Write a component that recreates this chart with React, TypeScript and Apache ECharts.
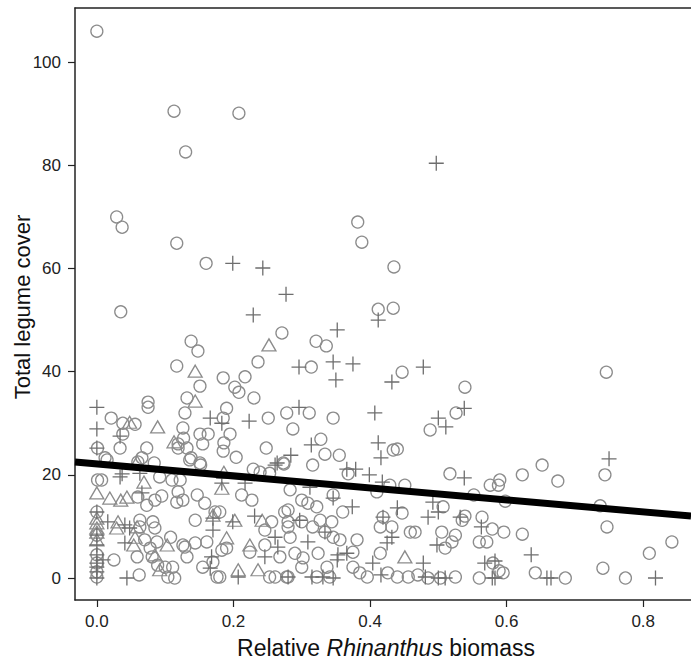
import React, { useEffect, useRef } from "react";
import * as echarts from "echarts";

const xTicks = [0, 0.2, 0.4, 0.6, 0.8];
const yTicks = [0, 20, 40, 60, 80, 100];

const circlePoints: [number, number][] = [
  [0.0, 106], [0.113, 90.5], [0.208, 90.1], [0.13, 82.6], [0.029, 70.0], [0.037, 68.0], [0.117, 64.9], [0.16, 61.0], [0.035, 51.6], [0.271, 47.5], [0.382, 69.0], [0.388, 65.1], [0.435, 60.3], [0.412, 52.1], [0.434, 52.3],
  [0.138, 45.9], [0.148, 44.0], [0.117, 41.1], [0.236, 41.9], [0.151, 37.2], [0.185, 38.8], [0.217, 39.0], [0.202, 37.0], [0.208, 36.0], [0.23, 34.9], [0.132, 34.9], [0.075, 34.1], [0.075, 33.1], [0.129, 32.0], [0.19, 32.9], [0.021, 31.0], [0.038, 30.0], [0.056, 29.8], [0.185, 31.0], [0.251, 31.0], [0.126, 29.1], [0.038, 27.9], [0.127, 27.1], [0.119, 26.0], [0.151, 27.9], [0.163, 27.9], [0.195, 27.9], [0.155, 26.0], [0.186, 26.2], [0.001, 25.2], [0.034, 25.2], [0.073, 25.2], [0.132, 25.2], [0.185, 24.6], [0.248, 25.2], [0.012, 23.3], [0.066, 23.3], [0.138, 23.3], [0.204, 23.4], [0.152, 21.9], [0.229, 21.1],
  [0.321, 45.9], [0.336, 45.0], [0.314, 40.9], [0.447, 39.9], [0.539, 37.0], [0.526, 32.0], [0.488, 28.7], [0.278, 32.0], [0.311, 32.0], [0.346, 31.0], [0.287, 28.9], [0.328, 26.9], [0.44, 25.0], [0.334, 24.0], [0.355, 23.8], [0.274, 22.1], [0.316, 21.9], [0.368, 20.2], [0.517, 20.2],
  [0.746, 39.9], [0.744, 20.0], [0.652, 21.9], [0.623, 20.0], [0.675, 18.8], [0.59, 19.0], [0.588, 18.0], [0.576, 18.0], [0.552, 16.1], [0.598, 14.9], [0.737, 14.0], [0.564, 11.8], [0.579, 9.5], [0.596, 8.9], [0.623, 8.5], [0.747, 9.9], [0.56, 7.0], [0.571, 7.0], [0.842, 7.0], [0.809, 4.8], [0.58, 2.9], [0.589, 1.4], [0.595, 1.0], [0.642, 1.0], [0.741, 1.9], [0.56, 0], [0.686, 0], [0.774, 0],
  [0.015, 22.9], [0.06, 22.5], [0.084, 22.3], [0.119, 25.2], [0.001, 19.0], [0.007, 19.0], [0.092, 19.6], [0.11, 19.0], [0.119, 16.7], [0.06, 15.7], [0.073, 14.1], [0.085, 15.1], [0.095, 15.9], [0.117, 14.7], [0.063, 11.2], [0.063, 9.9], [0.082, 10.9], [0.085, 9.7], [0.07, 7.4], [0.088, 7.0], [0.108, 7.9], [0.126, 6.4], [0.078, 5.8], [0.059, 4.1], [0.025, 3.5], [0.081, 4.1], [0.089, 2.5], [0.1, 2.1], [0.111, 2.1], [0.062, 0.6], [0.104, 0.2], [0.114, 0],
  [0, 12.8], [0, 8.3], [0, 4.5], [0, 2.9], [0, 1.2], [0, 0.2],
  [0.136, 22.9], [0.151, 22.3], [0.273, 22.3], [0.239, 20.5], [0.253, 20.3], [0.212, 16.1], [0.227, 15.1], [0.147, 16.1], [0.158, 14.5], [0.122, 19.0], [0.126, 15.1], [0.173, 12.8], [0.18, 12.8], [0.144, 11.2], [0.256, 10.9], [0.246, 9.3], [0.275, 12.8], [0.28, 9.9], [0.19, 5.8], [0.183, 5.4], [0.224, 5.0], [0.246, 6.4], [0.268, 4.1], [0.129, 6.0], [0.144, 6.8], [0.161, 7.0], [0.132, 4.1], [0.17, 3.1], [0.155, 2.1], [0.176, 0.2], [0.18, 0.2], [0.253, 0.2], [0.261, 0.2], [0.278, 0.2],
  [0.434, 24.8], [0.41, 16.7], [0.429, 18.0], [0.283, 17.1], [0.346, 16.1], [0.3, 15.1], [0.309, 14.5], [0.322, 13.8], [0.36, 12.8], [0.28, 13.2], [0.3, 10.9], [0.28, 10.9], [0.327, 11.2], [0.344, 10.9], [0.334, 8.9], [0.316, 9.9], [0.346, 7.9], [0.356, 7.4], [0.283, 7.9], [0.381, 7.4], [0.419, 11.8], [0.415, 9.9], [0.432, 9.9], [0.415, 4.8], [0.29, 4.8], [0.302, 3.9], [0.324, 4.8], [0.375, 5.0], [0.3, 2.1], [0.337, 2.1], [0.375, 2.1], [0.385, 1.0], [0.396, 0.2], [0.322, 0.2], [0.341, 0.2], [0.28, 0.2], [0.426, 1.0],
  [0.451, 18.0], [0.507, 13.8], [0.447, 12.6], [0.539, 12.0], [0.535, 11.2], [0.459, 8.9], [0.466, 8.9], [0.505, 8.9], [0.525, 8.3], [0.52, 7.0], [0.51, 5.8], [0.44, 0.2], [0.456, 0.2], [0.47, 0.6], [0.485, 0], [0.503, 0], [0.525, 0.2],
];

const plusPoints: [number, number][] = [
  [0.199, 61.0], [0.243, 60.1], [0.277, 55.0], [0.229, 51.0], [0.352, 48.1], [0.497, 80.4], [0.412, 50.0],
  [0, 33.1], [0, 28.9], [0.166, 31.0], [0.183, 30.0], [0.223, 30.4], [0.034, 27.5], [0, 25.2], [0.037, 20.2],
  [0.296, 40.9], [0.346, 41.9], [0.375, 41.5], [0.35, 38.4], [0.432, 38.0], [0.478, 40.9], [0.538, 32.9], [0.5, 31.0], [0.511, 29.3], [0.407, 32.0], [0.296, 33.1], [0.314, 25.8], [0.412, 26.2], [0.416, 23.3], [0.284, 23.8], [0.261, 21.9], [0.366, 21.1], [0.379, 21.1], [0.399, 20.0], [0.538, 19.4],
  [0.75, 23.1], [0.563, 9.9], [0.636, 4.5], [0.568, 2.9], [0.583, 3.3], [0.583, 0], [0.659, 0], [0.665, 0], [0.818, 0],
  [0.034, 19.6], [0.063, 20.3], [0.066, 16.5], [0.016, 10.9], [0.041, 10.3], [0.048, 9.7], [0.041, 6.8], [0.009, 3.5], [0.044, 0],
  [0, 12.8], [0, 8.3], [0, 6.4], [0, 4.5], [0, 2.9], [0, 2.1], [0, 1.2], [0, 0],
  [0.264, 22.3], [0.183, 18.4], [0.217, 18.4], [0.17, 11.6], [0.199, 10.9], [0.231, 12.0], [0.261, 7.9], [0.17, 9.3], [0.265, 6.0], [0.246, 4.1], [0.168, 4.1], [0.166, 1.9], [0.207, 0.2],
  [0.418, 18.6], [0.312, 17.6], [0.346, 15.5], [0.374, 13.8], [0.297, 11.2], [0.334, 8.9], [0.309, 7.0], [0.419, 11.8], [0.425, 6.8], [0.353, 4.5], [0.366, 4.8], [0.352, 3.5], [0.404, 2.9], [0.28, 0.2], [0.315, 0.2], [0.331, 0.2], [0.346, 0], [0.416, 0.6],
  [0.492, 14.7], [0.5, 12.8], [0.44, 13.6], [0.485, 11.8], [0.532, 11.8], [0.432, 7.9], [0.498, 6.4], [0.478, 2.9], [0.481, 0.2], [0.5, 0], [0.51, 0], [0.579, 0],
];

const trianglePoints: [number, number][] = [
  [0.252, 45.2], [0.144, 40.1], [0.144, 34.3], [0.048, 30.2], [0.089, 29.3], [0.113, 26.4], [0.059, 22.5], [0.069, 18.6], [0, 16.5], [0.019, 15.5], [0.035, 15.1], [0.044, 15.7], [0.031, 10.9], [0.029, 9.7], [0.059, 9.9], [0.056, 7.9], [0.054, 6.4], [0.103, 6.4], [0.085, 4.5], [0.092, 1.6],
  [0, 11.6], [0, 10.7], [0, 9.7], [0, 8.9], [0, 7.4],
  [0.186, 20.5], [0.183, 17.4], [0.17, 12.2], [0.202, 11.2], [0.242, 11.2], [0.19, 7.8], [0.224, 6.4], [0.207, 1.6], [0.236, 1.6], [0.451, 4.1],
];

const fitLine: [number, number][] = [
  [-0.032, 22.5],
  [0.87, 12.0],
];

const X_MIN = -0.032;
const X_MAX = 0.87;
const Y_MIN = -4.26;
const Y_MAX = 110.5;

const FONT = "'Liberation Sans', Arial, sans-serif";

export default function App() {
  const ref = useRef<HTMLDivElement>(null);
  useEffect(() => {
    if (!ref.current) return;
    const chart = echarts.init(ref.current, undefined, { renderer: "svg" });
    const hollow = (c: string, w: number) => ({ color: "rgba(0,0,0,0)", borderColor: c, borderWidth: w, opacity: 1 });
    chart.setOption({
      animation: false,
      backgroundColor: "#ffffff",
      grid: { left: 75, right: 0, top: 8, bottom: 66, containLabel: false },
      xAxis: [
        {
          type: "value",
          min: X_MIN,
          max: X_MAX,
          position: "bottom",
          axisLine: { show: true, onZero: false, lineStyle: { color: "#222", width: 1.5 } },
          axisTick: { show: true, inside: false, length: 7, customValues: xTicks, lineStyle: { color: "#222", width: 1.2 } },
          axisLabel: {
            customValues: xTicks,
            formatter: (v: number) => v.toFixed(1),
            fontFamily: FONT,
            fontSize: 17,
            color: "#222",
            margin: 13,
          },
          splitLine: { show: false },
        },
        {
          type: "value",
          min: X_MIN,
          max: X_MAX,
          position: "top",
          axisLine: { show: true, onZero: false, lineStyle: { color: "#222", width: 1.5 } },
          axisTick: { show: false },
          axisLabel: { show: false },
          splitLine: { show: false },
        },
      ],
      yAxis: {
        type: "value",
        min: Y_MIN,
        max: Y_MAX,
        axisLine: { show: true, onZero: false, lineStyle: { color: "#222", width: 1.5 } },
        axisTick: { show: true, length: 7, customValues: yTicks, lineStyle: { color: "#222", width: 1.2 } },
        axisLabel: {
          customValues: yTicks,
          formatter: (v: number) => String(Math.round(v)),
          fontFamily: FONT,
          fontSize: 17,
          color: "#222",
          margin: 14,
        },
        splitLine: { show: false },
      },
      series: [
        {
          type: "scatter",
          data: circlePoints,
          symbol: "circle",
          symbolSize: 12,
          itemStyle: hollow("#8c8c8c", 1.3),
          silent: true,
          z: 2,
        },
        {
          type: "scatter",
          data: trianglePoints,
          symbol: "triangle",
          symbolSize: [14, 12],
          itemStyle: hollow("#8c8c8c", 1.3),
          silent: true,
          z: 2,
        },
        {
          type: "scatter",
          data: plusPoints,
          symbol: "path://M0,7L14,7M7,0L7,14",
          symbolSize: 15,
          itemStyle: hollow("#6e6e6e", 1.3),
          silent: true,
          z: 3,
        },
        {
          type: "line",
          data: fitLine,
          symbol: "none",
          lineStyle: { color: "#000", width: 7 },
          silent: true,
          z: 10,
        },
      ],
      graphic: [
        {
          type: "text",
          x: 386,
          y: 648,
          style: {
            text: "{a|Relative }{b|Rhinanthus}{a| biomass}",
            textAlign: "center",
            textVerticalAlign: "middle",
            rich: {
              a: { fontFamily: FONT, fontSize: 23, fill: "#111" },
              b: { fontFamily: FONT, fontSize: 23, fontStyle: "italic", fill: "#111" },
            },
          },
        },
        {
          type: "text",
          x: 22,
          y: 307,
          rotation: Math.PI / 2,
          style: {
            text: "Total legume cover",
            fontFamily: FONT,
            fontSize: 22,
            fill: "#111",
            textAlign: "center",
            textVerticalAlign: "middle",
          },
        },
      ],
    });
    return () => chart.dispose();
  }, []);
  return (
    <div
      ref={ref}
      style={{ position: "fixed", left: 0, top: 0, width: 691, height: 666, background: "#fff" }}
    />
  );
}
